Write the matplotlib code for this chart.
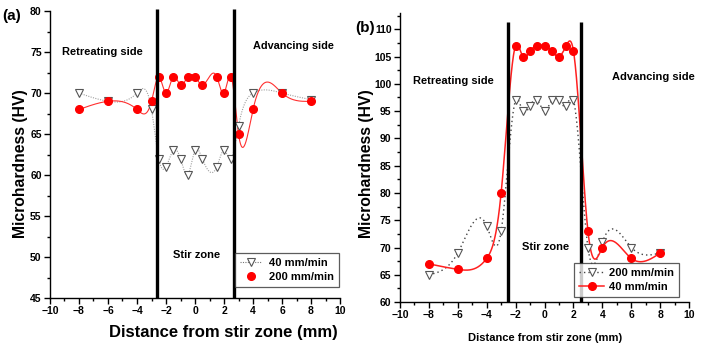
import numpy as np
import matplotlib
matplotlib.use("Agg")
import matplotlib.pyplot as plt
from matplotlib.lines import Line2D
from matplotlib.ticker import MultipleLocator

plt.rcParams['font.family'] = ['Liberation Sans', 'DejaVu Sans']

# ---------------- data ----------------
# Panel (a)
a_x40 = [-8, -6, -4, -3, -2.5, -2, -1.5, -1, -0.5, 0, 0.5, 1.5, 2, 2.5, 3, 4, 6, 8]
a_y40 = [70, 69, 70, 68, 62, 61, 63, 62, 60, 63, 62, 61, 63, 62, 66, 70, 70, 69.2]
a_x200 = [-8, -6, -4, -3, -2.5, -2, -1.5, -1, -0.5, 0, 0.5, 1.5, 2, 2.5, 3, 4, 6, 8]
a_y200 = [68, 69, 68, 69, 72, 70, 72, 71, 72, 72, 71, 72, 70, 72, 65, 68, 70, 69]
a_label40 = "40 mm/min"
a_label200 = "200 mm/min"
a_walls = [-2.6, 2.7]

# Panel (b)
b_x200 = [-8, -6, -4, -3, -2, -1.5, -1, -0.5, 0, 0.5, 1, 1.5, 2, 3, 4, 6, 8]
b_y200 = [65, 69, 74, 73, 97, 95, 96, 97, 95, 97, 97, 96, 97, 70, 71, 70, 69]
b_x40 = [-8, -6, -4, -3, -2, -1.5, -1, -0.5, 0, 0.5, 1, 1.5, 2, 3, 4, 6, 8]
b_y40 = [67, 66, 68, 80, 107, 105, 106, 107, 107, 106, 105, 107, 106, 73, 70, 68, 69]
b_label200 = "200 mm/min"
b_label40 = "40 mm/min"
b_walls = [-2.5, 2.5]

xlabel = "Distance from stir zone (mm)"
ylabel = "Microhardness (HV)"


def natural_spline(x, y, n=600):
    x = np.asarray(x, float)
    y = np.asarray(y, float)
    m = len(x)
    h = np.diff(x)
    A = np.zeros((m, m))
    r = np.zeros(m)
    A[0, 0] = 1
    A[-1, -1] = 1
    for i in range(1, m - 1):
        A[i, i - 1] = h[i - 1]
        A[i, i] = 2 * (h[i - 1] + h[i])
        A[i, i + 1] = h[i]
        r[i] = 6 * ((y[i + 1] - y[i]) / h[i] - (y[i] - y[i - 1]) / h[i - 1])
    M = np.linalg.solve(A, r)
    xs = np.linspace(x[0], x[-1], n)
    idx = np.clip(np.searchsorted(x, xs) - 1, 0, m - 2)
    x0, x1 = x[idx], x[idx + 1]
    hh = x1 - x0
    t0 = x1 - xs
    t1 = xs - x0
    ys = (M[idx] * t0 ** 3 / (6 * hh) + M[idx + 1] * t1 ** 3 / (6 * hh)
          + (y[idx] / hh - M[idx] * hh / 6) * t0
          + (y[idx + 1] / hh - M[idx + 1] * hh / 6) * t1)
    return xs, ys


fig = plt.figure(figsize=(7.04, 3.48), dpi=100)
axa = fig.add_axes([0.071, 0.1437, 0.412, 0.8243])
axb = fig.add_axes([0.568, 0.132, 0.411, 0.831])


def style_axes(ax):
    for s in ['top', 'right']:
        ax.spines[s].set_visible(False)
    ax.spines['left'].set_linewidth(1.0)
    ax.spines['bottom'].set_linewidth(1.0)
    ax.xaxis.set_major_locator(MultipleLocator(2))
    ax.xaxis.set_minor_locator(MultipleLocator(1))
    ax.yaxis.set_major_locator(MultipleLocator(5))
    ax.yaxis.set_minor_locator(MultipleLocator(2.5))
    ax.tick_params(which='major', direction='out', length=4, width=1, labelsize=7.5, pad=2)
    ax.tick_params(which='minor', direction='out', length=2, width=1)
    ax.set_xlim(-10, 10)


def bold_ticks(ax):
    for lab in ax.get_xticklabels() + ax.get_yticklabels():
        lab.set_fontweight('bold')


# ---------------- panel (a) ----------------
ax = axa
ax.set_ylim(45, 80)
xs, ys = natural_spline(a_x40, a_y40)
ax.plot(xs, ys, color='#a0a0a0', lw=0.8, ls=(0, (1, 1.2)), zorder=2)
ax.plot(a_x40, a_y40, ls='none', marker='v', ms=5.5, mfc='white', mec='#555555', mew=0.8, zorder=3)
xs, ys = natural_spline(a_x200, a_y200)
ax.plot(xs, ys, color='#ff3030', lw=0.8, zorder=2)
ax.plot(a_x200, a_y200, ls='none', marker='o', ms=5.5, mfc='#ff0000', mec='#ff0000', zorder=3)
for w in a_walls:
    ax.plot([w, w], [45, 80.3], color='black', lw=2.4, zorder=4, clip_on=False,
            solid_capstyle='butt')
style_axes(ax)
ax.set_yticks([45, 50, 55, 60, 65, 70, 75, 80])
bold_ticks(ax)
ax.set_xlabel(xlabel, fontsize=12, fontweight='bold')
ax.xaxis.set_label_coords(0.597, -0.122)
ax.xaxis.label.set_va('center')
ax.set_ylabel(ylabel, fontsize=11.3, fontweight='bold')
ax.yaxis.set_label_coords(-0.10, 0.467)
ax.yaxis.label.set_va('center')
ax.text(-6.4, 75, "Retreating side", fontsize=8, fontweight='bold', ha='center', va='center')
ax.text(6.8, 75.7, "Advancing side", fontsize=7.8, fontweight='bold', ha='center', va='center')
ax.text(0.1, 50.2, "Stir zone", fontsize=8, fontweight='bold', ha='center', va='center')
h1 = Line2D([], [], color='#777777', lw=0.8, ls=(0, (1, 1.2)), marker='v', ms=5.5,
            mfc='white', mec='#555555', mew=0.8)
h2 = Line2D([], [], ls='none', marker='o', ms=5.5, mfc='#ff0000', mec='#ff0000')
leg = ax.legend([h1, h2], [a_label40, a_label200], loc='lower right',
                bbox_to_anchor=(1.015, 0.02), prop=dict(weight='bold', size=8),
                frameon=True, fancybox=False, edgecolor='#333333', borderpad=0.45,
                handlelength=2.0, handletextpad=0.6, labelspacing=0.35)
leg.get_frame().set_linewidth(0.9)
fig.text(0.003, 0.955, "(a)", fontsize=11, fontweight='bold', ha='left', va='center')

# ---------------- panel (b) ----------------
ax = axb
ax.set_ylim(60, 113)
xs, ys = natural_spline(b_x200, b_y200)
ax.plot(xs, ys, color='#444444', lw=1.0, ls=(0, (1, 2.2)), zorder=2)
ax.plot(b_x200, b_y200, ls='none', marker='v', ms=5.5, mfc='white', mec='#555555', mew=0.8, zorder=3)
xs, ys = natural_spline(b_x40, b_y40)
ax.plot(xs, ys, color='#ff2020', lw=1.1, zorder=2)
ax.plot(b_x40, b_y40, ls='none', marker='o', ms=5.5, mfc='#ff0000', mec='#ff0000', zorder=3)
for w in b_walls:
    ax.plot([w, w], [60, 111.3], color='black', lw=2.4, zorder=4, clip_on=False,
            solid_capstyle='butt')
style_axes(ax)
ax.set_yticks([60, 65, 70, 75, 80, 85, 90, 95, 100, 105, 110])
bold_ticks(ax)
ax.set_xlabel(xlabel, fontsize=8, fontweight='bold')
ax.xaxis.set_label_coords(0.501, -0.125)
ax.xaxis.label.set_va('center')
ax.set_ylabel(ylabel, fontsize=11.3, fontweight='bold')
ax.yaxis.set_label_coords(-0.114, 0.48)
ax.yaxis.label.set_va('center')
ax.text(-6.3, 100.5, "Retreating side", fontsize=8, fontweight='bold', ha='center', va='center')
ax.text(7.5, 101.3, "Advancing side", fontsize=8, fontweight='bold', ha='center', va='center')
ax.text(0.1, 70.1, "Stir zone", fontsize=8, fontweight='bold', ha='center', va='center')
h1 = Line2D([], [], color='#444444', lw=1.0, ls=(0, (1, 2.2)), marker='v', ms=5.5,
            mfc='white', mec='#555555', mew=0.8)
h2 = Line2D([], [], color='#ff2020', lw=1.1, marker='o', ms=5.5, mfc='#ff0000', mec='#ff0000')
leg = ax.legend([h1, h2], [b_label200, b_label40], loc='lower right',
                bbox_to_anchor=(0.985, 0.0), prop=dict(weight='bold', size=8),
                frameon=True, fancybox=False, edgecolor='#333333', borderpad=0.45,
                handlelength=2.2, handletextpad=0.5, labelspacing=0.35)
leg.get_frame().set_linewidth(0.9)
fig.text(0.505, 0.92, "(b)", fontsize=11, fontweight='bold', ha='left', va='center')

fig.savefig("out.png", dpi=100)
